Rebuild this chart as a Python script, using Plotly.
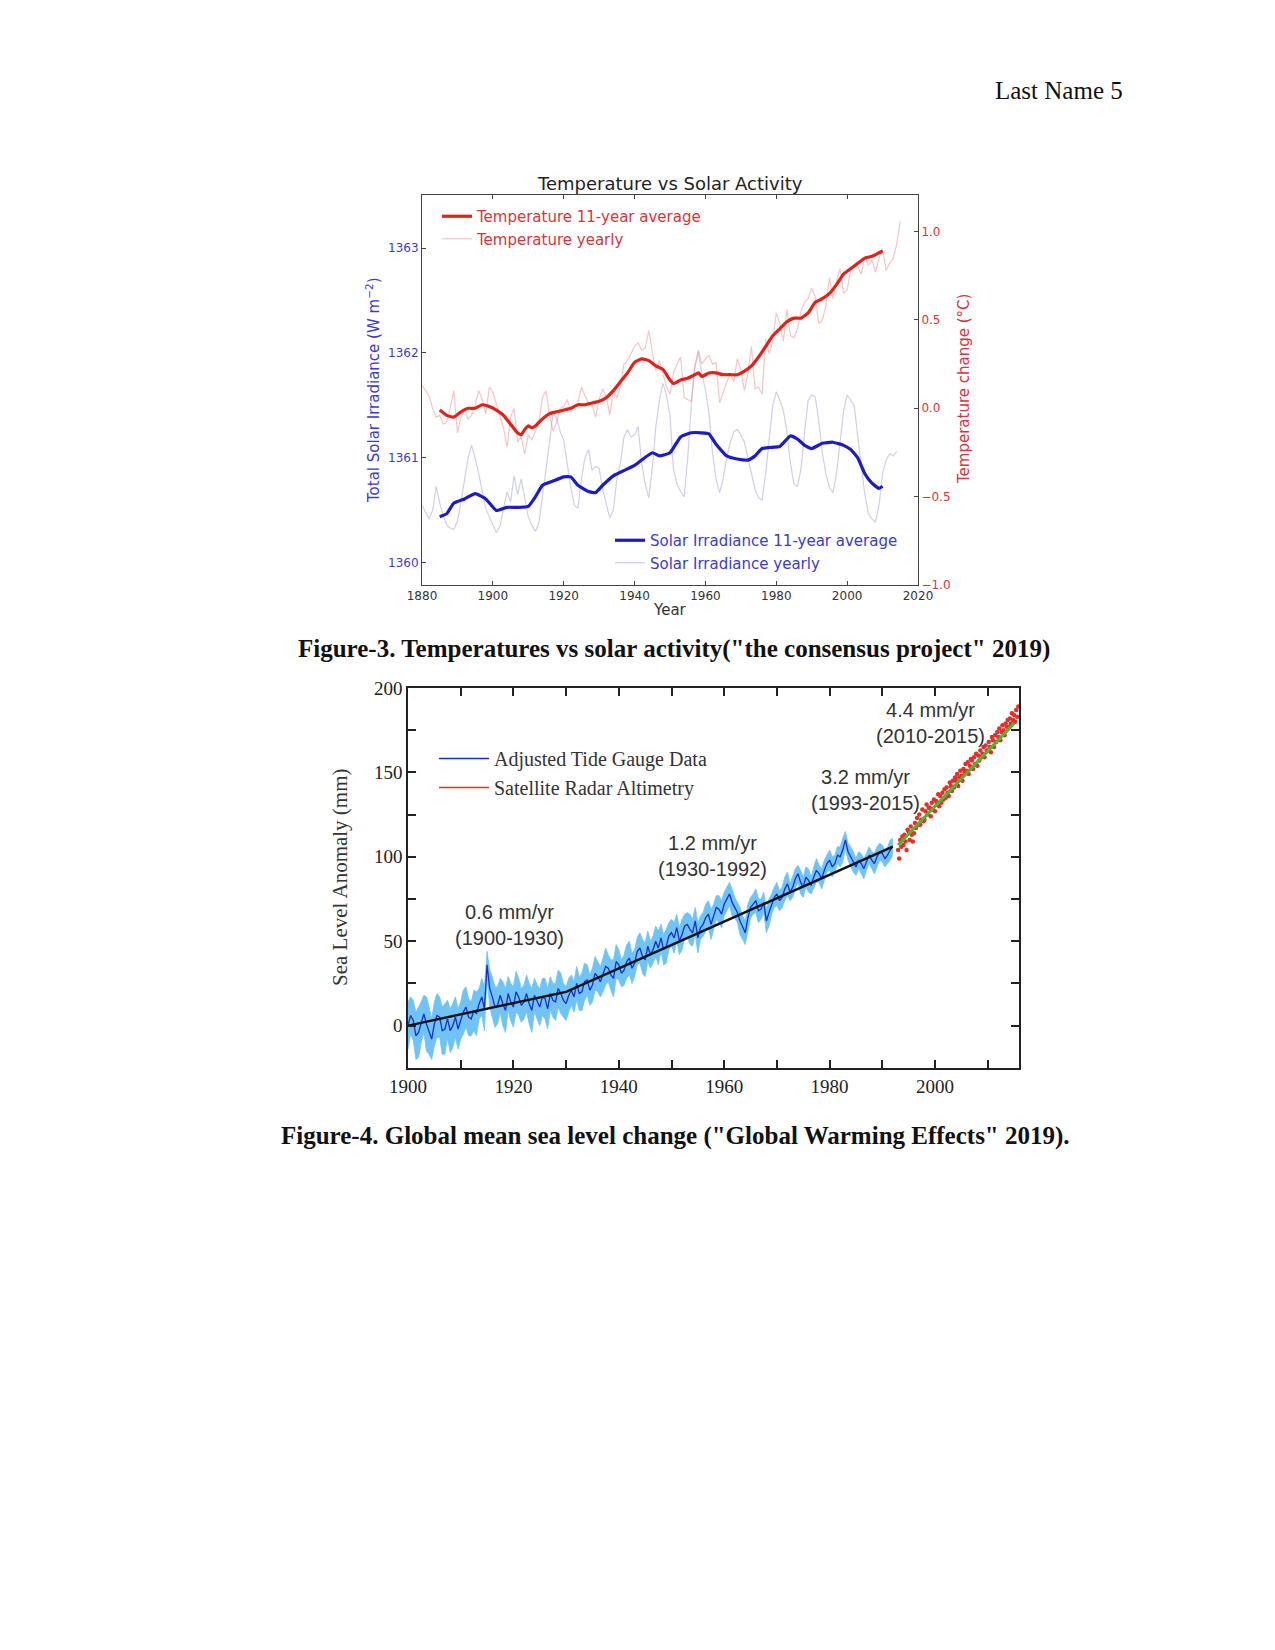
import plotly.graph_objects as go

W, H = 1275, 1650

# ---------------- Figure 3 data: Temperature vs Solar Activity ----------------
solar_yearly = [
    1360.55, 1360.49, 1360.42, 1360.50, 1360.73, 1360.57, 1360.45, 1360.36, 1360.33, 1360.32,
    1360.40, 1360.58, 1360.79, 1361.00, 1361.12, 1361.00, 1360.85, 1360.68, 1360.52, 1360.44,
    1360.36, 1360.29, 1360.35, 1360.50, 1360.68, 1360.58, 1360.83, 1360.65, 1360.80, 1360.62,
    1360.44, 1360.36, 1360.30, 1360.38, 1360.62, 1360.89, 1361.15, 1361.43, 1361.38, 1361.25,
    1361.17, 1360.95, 1360.72, 1360.55, 1360.52, 1360.80, 1361.00, 1361.08, 1360.88, 1360.92,
    1360.90, 1360.70, 1360.55, 1360.43, 1360.50, 1360.80, 1360.95, 1361.20, 1361.27, 1361.20,
    1361.22, 1361.30, 1360.95, 1360.75, 1360.62, 1360.90, 1361.30, 1361.55, 1361.71, 1361.60,
    1361.40, 1360.89, 1360.75, 1360.68, 1360.63, 1361.00, 1361.50, 1361.85, 1362.01, 1361.80,
    1361.65, 1361.43, 1361.05, 1360.80, 1360.67, 1360.80, 1361.00, 1361.15, 1361.25, 1361.27,
    1361.22, 1361.15, 1361.00, 1360.85, 1360.70, 1360.62, 1360.60, 1360.85, 1361.20, 1361.50,
    1361.63, 1361.55, 1361.45, 1361.25, 1360.95, 1360.75, 1360.73, 1360.90, 1361.25, 1361.55,
    1361.60, 1361.58, 1361.35, 1361.05, 1360.85, 1360.72, 1360.67, 1360.85, 1361.15, 1361.45,
    1361.60, 1361.55, 1361.50, 1361.20, 1360.90, 1360.65, 1360.47, 1360.42, 1360.39, 1360.55,
    1360.85, 1360.98, 1361.04, 1361.02, 1361.06,
]
solar_yearly_years = list(range(1880, 1880 + len(solar_yearly)))

solar_avg_years = [1885, 1887, 1889, 1892, 1895, 1898, 1901, 1904, 1907, 1910, 1912, 1914, 1917,
                   1920, 1922, 1924, 1927, 1929, 1931, 1934, 1937, 1940, 1942, 1945, 1947, 1950,
                   1953, 1956, 1959, 1961, 1963, 1966, 1969, 1972, 1974, 1976, 1978, 1981, 1984,
                   1986, 1988, 1990, 1993, 1996, 1999, 2001, 2003, 2005, 2007, 2009, 2010]
solar_avg = [1360.44, 1360.47, 1360.57, 1360.61, 1360.66, 1360.61, 1360.50, 1360.53, 1360.53,
             1360.54, 1360.63, 1360.74, 1360.78, 1360.82, 1360.82, 1360.74, 1360.68, 1360.67,
             1360.74, 1360.83, 1360.88, 1360.93, 1360.98, 1361.05, 1361.02, 1361.05, 1361.20,
             1361.24, 1361.24, 1361.23, 1361.13, 1361.02, 1360.99, 1360.98, 1361.02, 1361.09,
             1361.10, 1361.11, 1361.21, 1361.18, 1361.12, 1361.09, 1361.14, 1361.15, 1361.12,
             1361.08, 1361.00, 1360.85, 1360.76, 1360.71, 1360.73]

temp_yearly = [
    0.13, 0.10, 0.07, 0.00, -0.05, -0.04, -0.09, -0.08, 0.01, 0.10,
    -0.14, -0.05, -0.01, -0.06, -0.04, 0.02, 0.10, 0.05, -0.03, 0.12,
    0.09, 0.02, -0.05, -0.11, -0.22, -0.05, 0.00, -0.19, -0.16, -0.26,
    -0.15, -0.18, -0.13, -0.08, 0.06, 0.10, -0.04, -0.13, -0.08, 0.00,
    0.01, 0.05, -0.02, 0.01, 0.03, 0.12, 0.07, 0.03, 0.02, -0.05,
    0.05, 0.11, 0.07, -0.04, 0.10, 0.06, 0.12, 0.25, 0.27, 0.31,
    0.35, 0.37, 0.33, 0.34, 0.44, 0.32, 0.21, 0.27, 0.19, 0.12,
    0.08, 0.20, 0.25, 0.29, 0.06, 0.05, 0.04, 0.24, 0.33, 0.25,
    0.28, 0.30, 0.25, 0.26, 0.03, 0.09, 0.14, 0.20, 0.15, 0.28,
    0.22, 0.10, 0.20, 0.35, 0.11, 0.12, 0.08, 0.39, 0.31, 0.38,
    0.54, 0.48, 0.38, 0.56, 0.41, 0.40, 0.45, 0.55, 0.60, 0.62,
    0.68, 0.63, 0.48, 0.50, 0.58, 0.74, 0.62, 0.72, 0.79, 0.65,
    0.67, 0.78, 0.81, 0.80, 0.76, 0.86, 0.81, 0.84, 0.77, 0.85,
    0.90, 0.78, 0.82, 0.85, 0.93, 1.06,
]
temp_yearly_years = list(range(1880, 1880 + len(temp_yearly)))

temp_avg_years = [1885, 1887, 1889, 1891, 1893, 1895, 1897, 1899, 1901, 1903, 1905, 1907, 1908,
                  1909, 1910, 1911, 1912, 1914, 1916, 1918, 1920, 1922, 1924, 1926, 1928, 1930,
                  1932, 1934, 1936, 1938, 1940, 1942, 1944, 1946, 1948, 1950, 1951, 1953, 1955,
                  1957, 1958, 1959, 1961, 1963, 1965, 1967, 1969, 1971, 1973, 1975, 1977, 1979,
                  1981, 1983, 1985, 1987, 1989, 1991, 1993, 1995, 1997, 1999, 2001, 2003, 2005,
                  2007, 2009, 2010]
temp_avg = [-0.01, -0.04, -0.05, -0.02, 0.00, 0.00, 0.02, 0.01, -0.01, -0.04, -0.09, -0.14, -0.15,
            -0.12, -0.10, -0.11, -0.10, -0.06, -0.03, -0.02, -0.01, 0.00, 0.02, 0.02, 0.03, 0.04,
            0.06, 0.10, 0.15, 0.20, 0.26, 0.28, 0.27, 0.24, 0.22, 0.16, 0.14, 0.16, 0.17,
            0.19, 0.20, 0.18, 0.20, 0.20, 0.19, 0.19, 0.19, 0.21, 0.24, 0.29, 0.35, 0.41,
            0.45, 0.49, 0.51, 0.51, 0.54, 0.60, 0.62, 0.65, 0.70, 0.76, 0.79, 0.82, 0.85,
            0.86, 0.88, 0.89]

fig3_xticks = [1880, 1900, 1920, 1940, 1960, 1980, 2000, 2020]
fig3_solar_ticks = [1360, 1361, 1362, 1363]
fig3_temp_ticks = [-1.0, -0.5, 0.0, 0.5, 1.0]

# ---------------- Figure 4 data: Global mean sea level ----------------
# annual values (start of each year) and mid-year values, mm
tide_gauge = [
    0, 3, -4, 7, -3, 1, 5, -2, -3, 5,
    3, 11, 4, 7, 17, 36, 17, 12, 13, 19,
    11, 17, 14, 13, 18, 11, 16, 19, 14, 19,
    13, 21, 25, 20, 27, 24, 29, 30, 34, 28,
    36, 33, 40, 37, 46, 39, 42, 50, 52, 47,
    55, 58, 54, 60, 55, 52, 60, 66, 65, 69,
    72, 78, 70, 62, 55, 70, 74, 69, 62, 72,
    78, 76, 84, 82, 90, 82, 86, 88, 90, 92,
    98, 96, 100, 110, 100, 94, 96, 97, 98, 100,
    102, 101, 106,
]
tide_gauge_mid = [
    6, -6, 2, 1, -8, 6, -3, 4, 0, -2,
    8, 5, 9, 13, 10, 22, 11, 18, 9, 14,
    20, 12, 19, 9, 14, 17, 10, 15, 22, 15,
    18, 17, 19, 26, 21, 31, 26, 35, 30, 38,
    31, 38, 34, 44, 41, 47, 45, 46, 45, 53,
    52, 50, 59, 57, 62, 58, 64, 60, 70, 66,
    75, 73, 67, 58, 64, 72, 68, 73, 67, 76,
    74, 81, 79, 87, 85, 88, 83, 92, 87, 96,
    94, 101, 104, 103, 97, 98, 93, 101, 96, 103,
    99, 104,
]
tide_unc = [
    14, 12, 15, 11, 14, 13, 12, 15, 13, 12, 11,
    12, 10, 13, 11, 8, 12, 11, 13, 10, 12,
    11, 10, 12, 10, 11, 12, 10, 11, 12, 10,
    9, 10, 11, 9, 10, 9, 10, 8, 11, 9,
    9, 10, 8, 9, 10, 8, 9, 8, 10, 8,
    8, 9, 7, 8, 9, 7, 8, 7, 8, 7,
    7, 6, 8, 7, 6, 7, 6, 7, 6, 7,
    6, 7, 6, 5, 6, 7, 6, 5, 6, 6,
    5, 6, 5, 6, 5, 6, 5, 5, 6, 5,
    5, 5,
]
tide_unc_mid = [
    11, 14, 12, 16, 12, 13, 14, 11, 13, 12,
    13, 11, 12, 9, 13, 11, 12, 10, 13, 11,
    12, 10, 11, 13, 10, 11, 12, 10, 11, 10,
    10, 9, 10, 11, 9, 10, 9, 11, 9, 10,
    8, 10, 9, 8, 10, 9, 8, 10, 9, 8,
    9, 8, 7, 9, 8, 7, 8, 9, 7, 8,
    7, 8, 6, 7, 8, 6, 7, 6, 8, 6,
    6, 7, 5, 6, 7, 6, 5, 7, 6, 5,
    6, 5, 7, 5, 6, 5, 6, 5, 6, 5,
    5, 6,
]

tide_x, tide_y, tide_lo, tide_hi = [], [], [], []
for i, (v, u) in enumerate(zip(tide_gauge, tide_unc)):
    tide_x.append(1900 + i)
    tide_y.append(v)
    tide_lo.append(v - u)
    tide_hi.append(v + u)
    if i < len(tide_gauge_mid):
        vm, um = tide_gauge_mid[i], tide_unc_mid[i]
        tide_x.append(1900 + i + 0.5)
        tide_y.append(vm)
        tide_lo.append(vm - um)
        tide_hi.append(vm + um)

sat_values = [
    104, 99, 110, 106, 112,
    107, 113, 109, 104, 116,
    115, 110, 118, 113, 109,
    114, 120, 117, 123, 119,
    125, 119, 122, 128, 121,
    122, 127, 131, 125, 129,
    129, 124, 132, 128, 134,
    127, 133, 131, 137, 130,
    136, 132, 138, 134, 140,
    135, 141, 138, 136, 144,
    142, 139, 145, 141, 147,
    145, 149, 142, 147, 151,
    148, 145, 152, 150, 155,
    151, 156, 149, 154, 158,
    157, 152, 159, 155, 161,
    154, 160, 157, 163, 159,
    161, 165, 159, 166, 163,
    163, 168, 165, 162, 171,
    169, 165, 172, 168, 174,
    171, 176, 169, 174, 178,
    175, 172, 179, 177, 181,
    177, 182, 179, 185, 181,
    184, 180, 187, 183, 189,
]
sat_years = [y + f for y in range(1993, 2016) for f in (0.0, 0.2, 0.4, 0.6, 0.8)]

trend_years = [1900, 1930, 1992]
trend_values = [0, 20, 106]
sat_trend_years = [1993, 2015]
sat_trend_values = [107, 179]

rate_labels = ["0.6 mm/yr<br>(1900-1930)", "1.2 mm/yr<br>(1930-1992)",
               "3.2 mm/yr<br>(1993-2015)", "4.4 mm/yr<br>(2010-2015)"]
rate_label_x = [1919.2, 1957.7, 1986.9, 1999.1]
rate_label_y = [59.8, 100.2, 139.4, 179.2]

fig4_xticks = [1900, 1920, 1940, 1960, 1980, 2000]
fig4_yticks = [0, 50, 100, 150, 200]

# ---------------- Build figure ----------------
SANS = "DejaVu Sans"
SERIF = "Liberation Serif"
RED = "#e32119"
BLUE = "#1b1bc8"
RED_TXT = "#d8353a"
BLUE_TXT = "#3b3bcf"
BAND = "rgb(112,195,245)"

fig = go.Figure()

fig.add_trace(go.Scatter(x=temp_yearly_years, y=temp_yearly, mode="lines", name="Temperature yearly",
                         line=dict(color="rgba(238,150,150,0.55)", width=1.2),
                         xaxis="x", yaxis="y2", legend="legend", legendrank=2))
fig.add_trace(go.Scatter(x=temp_avg_years, y=temp_avg, mode="lines", name="Temperature 11-year average",
                         line=dict(color=RED, width=3.2, shape="spline", smoothing=0.4),
                         xaxis="x", yaxis="y2", legend="legend", legendrank=1))
fig.add_trace(go.Scatter(x=solar_yearly_years, y=solar_yearly, mode="lines", name="Solar Irradiance yearly",
                         line=dict(color="rgba(175,175,220,0.6)", width=1.2),
                         xaxis="x", yaxis="y", legend="legend2", legendrank=2))
fig.add_trace(go.Scatter(x=solar_avg_years, y=solar_avg, mode="lines", name="Solar Irradiance 11-year average",
                         line=dict(color=BLUE, width=3.2, shape="spline", smoothing=0.4),
                         xaxis="x", yaxis="y", legend="legend2", legendrank=1))

# Figure 4 traces
fig.add_trace(go.Scatter(x=tide_x, y=tide_lo, mode="lines", showlegend=False,
                         line=dict(color=BAND, width=0.8), xaxis="x2", yaxis="y3"))
fig.add_trace(go.Scatter(x=tide_x, y=tide_hi, mode="lines", showlegend=False, fill="tonexty",
                         fillcolor=BAND, line=dict(color=BAND, width=0.8), xaxis="x2", yaxis="y3"))
fig.add_trace(go.Scatter(x=tide_x, y=tide_y, mode="lines", name="Adjusted Tide Gauge Data",
                         line=dict(color="#1530d0", width=1.3),
                         xaxis="x2", yaxis="y3", legend="legend3", legendrank=1))
fig.add_trace(go.Scatter(x=trend_years, y=trend_values, mode="lines", showlegend=False,
                         line=dict(color="#111111", width=2.4), xaxis="x2", yaxis="y3"))
fig.add_trace(go.Scatter(x=sat_years, y=sat_values, mode="markers", showlegend=False,
                         marker=dict(color="#e3302a", size=4.5, line=dict(width=0)), xaxis="x2", yaxis="y3"))
fig.add_trace(go.Scatter(x=sat_trend_years, y=sat_trend_values, mode="lines", showlegend=False,
                         line=dict(color="#58b030", width=3.2), xaxis="x2", yaxis="y3"))
fig.add_trace(go.Scatter(x=[None], y=[None], mode="lines", name="Satellite Radar Altimetry",
                         line=dict(color="#e3302a", width=1.6),
                         xaxis="x2", yaxis="y3", legend="legend3", legendrank=2))


def px(x):
    return x / W


def py(y):
    return 1 - y / H


axis_common3 = dict(showgrid=False, zeroline=False, showline=True, linecolor="#444", linewidth=1,
                    ticks="inside", ticklen=4, tickcolor="#444", automargin=False)

fig.update_layout(
    width=W, height=H, margin=dict(l=0, r=0, t=0, b=0, pad=0, autoexpand=False),
    paper_bgcolor="white", plot_bgcolor="white",
    font=dict(family=SANS, color="#222"),
    xaxis=dict(domain=[px(422), px(918)], anchor="y", range=[1880, 2020], tickvals=fig3_xticks,
               mirror="ticks", tickfont=dict(family=SANS, size=12, color="#333"), **axis_common3),
    yaxis=dict(domain=[py(585), py(195)], anchor="x", range=[1359.79, 1363.505], tickvals=fig3_solar_ticks,
               side="left", tickfont=dict(family=SANS, size=12, color=BLUE_TXT), **axis_common3),
    yaxis2=dict(overlaying="y", anchor="x", side="right", range=[-1.0, 1.207], tickvals=fig3_temp_ticks,
                tickformat=".1f", tickfont=dict(family=SANS, size=12, color=RED_TXT), **axis_common3),
    xaxis2=dict(domain=[px(408), px(1019)], anchor="y3", range=[1900, 2015.94], tickvals=fig4_xticks,
                showgrid=False, zeroline=False, showline=True, linecolor="#222", linewidth=1.5,
                mirror="ticks", ticks="inside", ticklen=8, tickcolor="#222", tickwidth=1.5, automargin=False,
                minor=dict(dtick=10, tick0=1900, ticks="inside", ticklen=8, tickcolor="#222", tickwidth=1.5),
                tickfont=dict(family=SERIF, size=19, color="#222")),
    yaxis3=dict(domain=[py(1068), py(688)], anchor="x2", range=[-25.1, 200], tickvals=fig4_yticks,
                showgrid=False, zeroline=False, showline=True, linecolor="#222", linewidth=1.5,
                mirror="ticks", ticks="inside", ticklen=8, tickcolor="#222", tickwidth=1.5, automargin=False,
                minor=dict(dtick=25, tick0=0, ticks="inside", ticklen=8, tickcolor="#222", tickwidth=1.5),
                tickfont=dict(family=SERIF, size=19, color="#222")),
    legend=dict(x=px(437), y=py(200), xanchor="left", yanchor="top", bgcolor="rgba(0,0,0,0)",
                traceorder="normal", font=dict(family=SANS, size=15, color=RED_TXT), itemwidth=30,
                tracegroupgap=0),
    legend2=dict(x=px(610), y=py(524), xanchor="left", yanchor="top", bgcolor="rgba(0,0,0,0)",
                 traceorder="normal", font=dict(family=SANS, size=15, color=BLUE_TXT), itemwidth=30,
                 tracegroupgap=0),
    legend3=dict(x=px(434), y=py(739), xanchor="left", yanchor="top", bgcolor="rgba(0,0,0,0)",
                 traceorder="normal", font=dict(family=SERIF, size=20, color="#333"), itemwidth=50,
                 tracegroupgap=0),
    showlegend=True,
)

annotations = [
    dict(text="Last Name 5", x=px(1125), y=py(90), xref="paper", yref="paper", xanchor="right",
         yanchor="middle", showarrow=False, font=dict(family=SERIF, size=25, color="#111")),
    dict(text="Temperature vs Solar Activity", x=px(670), y=py(183), xref="paper", yref="paper",
         xanchor="center", yanchor="middle", showarrow=False, font=dict(family=SANS, size=18, color="#222")),
    dict(text="Year", x=px(670), y=py(610), xref="paper", yref="paper", xanchor="center",
         yanchor="middle", showarrow=False, font=dict(family=SANS, size=15, color="#333")),
    dict(text="Total Solar Irradiance (W m<sup>−2</sup>)", x=px(373), y=py(390), xref="paper", yref="paper",
         xanchor="center", yanchor="middle", textangle=-90, showarrow=False,
         font=dict(family=SANS, size=15, color=BLUE_TXT)),
    dict(text="Temperature change (°C)", x=px(964), y=py(389), xref="paper", yref="paper",
         xanchor="center", yanchor="middle", textangle=-90, showarrow=False,
         font=dict(family=SANS, size=15, color=RED_TXT)),
    dict(text="<b>Figure-3. Temperatures vs solar activity(\"the consensus project\" 2019)</b>",
         x=px(674), y=py(649), xref="paper", yref="paper", xanchor="center", yanchor="middle",
         showarrow=False, font=dict(family=SERIF, size=25, color="#111")),
    dict(text="Sea Level Anomaly (mm)", x=px(340), y=py(877), xref="paper", yref="paper",
         xanchor="center", yanchor="middle", textangle=-90, showarrow=False,
         font=dict(family=SERIF, size=21, color="#333")),
    dict(text="<b>Figure-4. Global mean sea level change (\"Global Warming Effects\" 2019).</b>",
         x=px(675), y=py(1136), xref="paper", yref="paper", xanchor="center", yanchor="middle",
         showarrow=False, font=dict(family=SERIF, size=25, color="#111")),
]
for t, xv, yv in zip(rate_labels, rate_label_x, rate_label_y):
    annotations.append(dict(text=t, x=xv, y=yv, xref="x2", yref="y3", xanchor="center", yanchor="middle",
                            showarrow=False, font=dict(family="Liberation Sans", size=20, color="#333")))
fig.update_layout(annotations=annotations)

fig.write_html("out.html")
